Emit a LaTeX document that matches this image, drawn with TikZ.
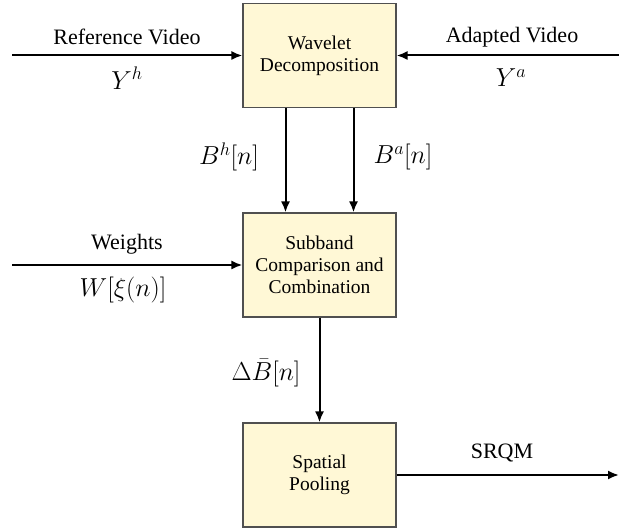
\RequirePackage{fix-cm}
\documentclass[tikz,border=0pt]{standalone}
\usepackage{fontspec}
\setmainfont{Liberation Serif}
\usetikzlibrary{arrows.meta}
\definecolor{boxfill}{RGB}{255,248,214}
\definecolor{boxline}{RGB}{80,80,80}

\begin{document}
\begin{tikzpicture}[x=1pt,y=-1pt,
  blk/.style={draw=boxline, fill=boxfill, line width=1.1pt,
    minimum width=153pt, minimum height=104pt, align=center,
    inner sep=2pt, font=\rmfamily\fontsize{19.5}{22}\selectfont},
  flow/.style={-{Latex[length=11pt,width=9pt]}, line width=2pt},
  lbl/.style={font=\rmfamily\fontsize{22}{26}\selectfont, inner sep=0pt},
  mlbl/.style={font=\fontsize{26}{30}\selectfont, inner sep=0pt}]
  \useasboundingbox (0,0) rectangle (619,529);

  % processing blocks
  \node[blk] (wav) at (319.5,55.5) {Wavelet\\Decomposition};
  \node[blk] (sub) at (319.5,265) {Subband\\Comparison and\\Combination};
  \node[blk] (pool) at (319.5,475) {Spatial\\Pooling};

  % free ends of the input and output lines
  \coordinate (refin) at (12,55.5);
  \coordinate (adin) at (619,55.5);
  \coordinate (win) at (12,265);
  \coordinate (out) at (619,475);

  % connectors
  \draw[flow] (refin) -- (wav.west);
  \draw[flow] (adin) -- (wav.east);
  \draw[flow] ([xshift=-34pt]wav.south) -- ([xshift=-34pt]sub.north);
  \draw[flow] ([xshift=34pt]wav.south) -- ([xshift=34pt]sub.north);
  \draw[flow] (win) -- (sub.west);
  \draw[flow] (sub.south) -- (pool.north);
  \draw[flow] (pool.east) -- (out);

  % labels
  \node[lbl] (reftxt) at (127,37) {Reference Video};
  \node[mlbl] (refsym) at (127,78) {$Y^h$};
  \node[lbl] (adtxt) at (512,37) {Adapted Video};
  \node[mlbl] (adsym) at (511,78) {$Y^a$};
  \node[mlbl] (bh) at (229,157) {$B^h[n]$};
  \node[mlbl] (ba) at (403,157) {$B^a[n]$};
  \node[lbl] (wtxt) at (127,244) {Weights};
  \node[mlbl] (wsym) at (123,290) {$W[\xi(n)]$};
  \node[mlbl] (db) at (266,373) {$\Delta\bar{B}[n]$};
  \node[lbl] (srqm) at (502,453) {SRQM};
\end{tikzpicture}
\end{document}
